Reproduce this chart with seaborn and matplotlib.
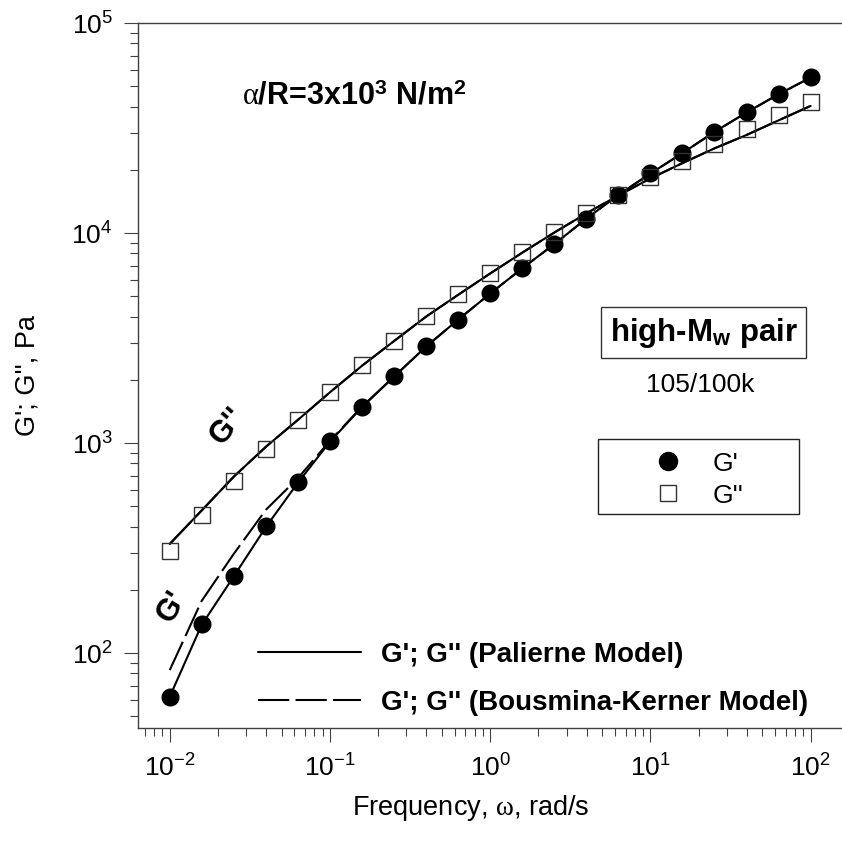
import numpy as np
import pandas as pd
import matplotlib
matplotlib.use('Agg')
import matplotlib.pyplot as plt
import seaborn as sns
from matplotlib.lines import Line2D
from matplotlib.patches import Rectangle
from matplotlib.ticker import LogLocator, NullFormatter

# frequencies (rad/s), 5 points per decade
omega = [0.01, 0.0158, 0.0251, 0.0398, 0.0631, 0.1, 0.158, 0.251, 0.398, 0.631,
         1.0, 1.58, 2.51, 3.98, 6.31, 10, 15.8, 25.1, 39.8, 63.1, 100]

# measured moduli (Pa)
g_storage = [61.5, 137, 234, 401, 652, 1018, 1484, 2075, 2884, 3860,
             5160, 6800, 8840, 11650, 15170, 19230, 23980, 30340, 37580, 45940, 55460]
g_loss = [305, 456, 661, 939, 1291, 1750, 2343, 3070, 4010, 5100,
          6470, 8090, 10080, 12410, 15170, 18410, 22020, 26440, 31380, 36480, 42170]

# Palierne model curves
pal_storage = [62, 136, 232, 398, 648, 1015, 1480, 2070, 2880, 3870,
               5150, 6780, 8850, 11700, 15200, 19200, 24000, 30300, 37500, 45800, 55000]
pal_loss = [331, 477, 692, 960, 1290, 1745, 2330, 3060, 4000, 5080,
            6420, 8050, 10050, 12400, 15100, 18200, 21500, 25300, 29300, 34400, 40300]

# Bousmina-Kerner model curves
bk_storage = [83, 177, 297, 481, 681, 1025, 1488, 2072, 2880, 3870,
              5150, 6780, 8850, 11700, 15200, 19200, 24000, 30300, 37500, 45800, 55000]
bk_loss = [331, 477, 692, 960, 1290, 1745, 2330, 3060, 4000, 5080,
           6420, 8050, 10050, 12400, 15100, 18200, 21500, 25300, 29300, 34400, 40300]

sns.set_style('ticks')
plt.rcParams['font.family'] = ['Liberation Sans', 'DejaVu Sans']
plt.rcParams['text.color'] = 'black'
plt.rcParams['axes.labelcolor'] = 'black'
plt.rcParams['xtick.labelcolor'] = 'black'
plt.rcParams['ytick.labelcolor'] = 'black'
plt.rcParams['axes.unicode_minus'] = False
plt.rcParams['mathtext.fontset'] = 'custom'
plt.rcParams['mathtext.rm'] = 'Liberation Serif'
plt.rcParams['mathtext.it'] = 'Liberation Serif:italic'
plt.rcParams['mathtext.bf'] = 'Liberation Sans:bold'

df = pd.DataFrame({'omega': omega, 'Gp': g_storage, 'Gpp': g_loss,
                   'pal_p': pal_storage, 'pal_pp': pal_loss,
                   'bk_p': bk_storage, 'bk_pp': bk_loss})

fig = plt.figure(figsize=(8.42, 8.46), dpi=100)
ax = fig.add_axes([137.7 / 842, 1 - 728 / 846, 705 / 842, 705 / 846])
ax.set_xscale('log')
ax.set_yscale('log')

dash = (0, (15, 3))
for col, ls in [('pal_p', '-'), ('pal_pp', '-'), ('bk_p', dash), ('bk_pp', dash)]:
    sns.lineplot(data=df, x='omega', y=col, color='black', lw=1.5, linestyle=ls,
                 sort=False, errorbar=None, ax=ax)

sns.scatterplot(data=df, x='omega', y='Gp', marker='o', s=13 ** 2, color='black',
                edgecolor='black', linewidth=0, ax=ax, zorder=3)
sns.scatterplot(data=df, x='omega', y='Gpp', marker='s', s=11.5 ** 2, facecolors='none',
                edgecolor='#333333', linewidth=1.0, ax=ax, zorder=4)

ax.set_xlim(10 ** -2.2, 10 ** 2.2)
ax.set_ylim(44, 1e5)

for a in (ax.xaxis, ax.yaxis):
    a.set_minor_locator(LogLocator(base=10, subs=np.arange(2, 10) * 1.0, numticks=30))
    a.set_minor_formatter(NullFormatter())

ax.tick_params(which='major', length=10, width=0.8, color='#404040', direction='out',
               labelsize=19, top=False, right=False)
ax.tick_params(which='minor', length=5.5, width=0.8, color='#404040', direction='out',
               top=False, right=False)
ax.tick_params(axis='x', which='major', pad=9)
ax.tick_params(axis='y', which='major', pad=8)

ax.spines['right'].set_visible(False)
for s in ('top', 'left', 'bottom'):
    ax.spines[s].set_color('#404040')
    ax.spines[s].set_linewidth(1.0)

ax.set_xlabel(r"Frequency, $\mathrm{\omega}$, rad/s", fontsize=19.5)
ax.xaxis.set_label_coords(0.472, -0.092)
ax.set_ylabel("G'; G'', Pa", fontsize=19.5, labelpad=22)

# annotations
ax.text(0.307, 0.884, r"$\mathrm{\alpha}$/R=3x10$^{\mathdefault{3}}$ N/m$^{\mathdefault{2}}$",
        transform=ax.transAxes, ha='center', va='baseline', fontsize=22, fontweight='bold')
ax.text(0.8026, 0.5494, r"high-M$_{\mathdefault{w}}$ pair", transform=ax.transAxes,
        ha='center', va='baseline', fontsize=22.5, fontweight='bold',
        bbox=dict(boxstyle='square,pad=0.28', fc='white', ec='#333333', lw=1.0))
ax.text(0.7976, 0.477, "105/100k", transform=ax.transAxes, ha='center', va='baseline',
        fontsize=19)
ax.text(0.128, 0.4274, "G''", transform=ax.transAxes, ha='center', va='center',
        fontsize=22, fontweight='bold', rotation=50)
ax.text(0.049, 0.172, "G'", transform=ax.transAxes, ha='center', va='center',
        fontsize=22, fontweight='bold', rotation=58)

# symbol legend in a box
ax.add_patch(Rectangle((0.653, 0.3035), 0.285, 0.1064, transform=ax.transAxes,
                       fill=False, ec='#222222', lw=1.0, zorder=5))
sym_handles = [Line2D([], [], ls='none', marker='o', ms=13, mfc='black', mec='black'),
               Line2D([], [], ls='none', marker='s', ms=11.5, mfc='none', mec='#333333', mew=1.0)]
leg1 = ax.legend(sym_handles, ["G'", "G''"], loc='upper left', bbox_to_anchor=(0.733, 0.392),
                 frameon=False, fontsize=19, handlelength=1.0, handletextpad=1.2,
                 labelspacing=0.3, borderpad=0, borderaxespad=0)
ax.add_artist(leg1)

# model line legend
line_handles = [Line2D([], [], color='black', lw=1.5),
                Line2D([], [], color='black', lw=1.5, ls=dash)]
ax.legend(line_handles, ["G'; G'' (Palierne Model)", "G'; G'' (Bousmina-Kerner Model)"],
          loc='upper left', bbox_to_anchor=(0.1706, 0.122), frameon=False,
          prop={'size': 20, 'weight': 'bold'}, handlelength=3.7, handletextpad=0.74,
          labelspacing=0.8, borderpad=0, borderaxespad=0)

fig.savefig('out.png', dpi=100)
